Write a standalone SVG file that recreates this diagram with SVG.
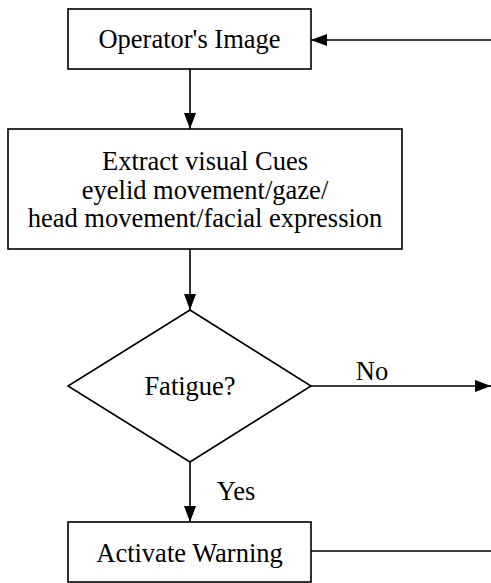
<svg xmlns="http://www.w3.org/2000/svg" width="491" height="583" viewBox="0 0 491 583">
<style>
.box{fill:#fff;stroke:#000;stroke-width:1.6}
.ln{fill:none;stroke:#000;stroke-width:1.6}
text{font-family:"Liberation Serif","Times New Roman",serif;font-size:26.5px;fill:#000;text-anchor:middle}
</style>
<defs>
<marker id="ah" viewBox="0 0 16 12" refX="16" refY="6" markerWidth="16" markerHeight="12" markerUnits="userSpaceOnUse" orient="auto">
<path d="M0,0 L16,6 L0,12 Z" fill="#000"/>
</marker>
</defs>
<rect width="491" height="583" fill="#fff"/>
<g id="connectors">
<line class="ln" x1="491" y1="40" x2="311" y2="40" marker-end="url(#ah)"/>
<line class="ln" x1="190" y1="69" x2="190" y2="129" marker-end="url(#ah)"/>
<line class="ln" x1="190" y1="249" x2="190" y2="310" marker-end="url(#ah)"/>
<line class="ln" x1="311" y1="386" x2="491" y2="386" marker-end="url(#ah)"/>
<line class="ln" x1="190" y1="462" x2="190" y2="522" marker-end="url(#ah)"/>
<line class="ln" x1="311" y1="551" x2="491" y2="551"/>
<text x="372" y="380">No</text>
<text x="236" y="500">Yes</text>
</g>
<g id="operator-image">
<rect class="box" x="68" y="9" width="243" height="60"/>
<text x="189.5" y="48">Operator's Image</text>
</g>
<g id="extract-cues">
<rect class="box" x="8" y="129" width="394" height="120"/>
<text x="205" y="170">Extract visual Cues</text>
<text x="205" y="198.5">eyelid movement/gaze/</text>
<text x="205" y="227">head movement/facial expression</text>
</g>
<g id="fatigue">
<polygon class="box" points="190,310 311,386 190,462 68,386"/>
<text x="190" y="395">Fatigue?</text>
</g>
<g id="activate-warning">
<rect class="box" x="68" y="522" width="243" height="60"/>
<text x="189.5" y="562">Activate Warning</text>
</g>
</svg>
